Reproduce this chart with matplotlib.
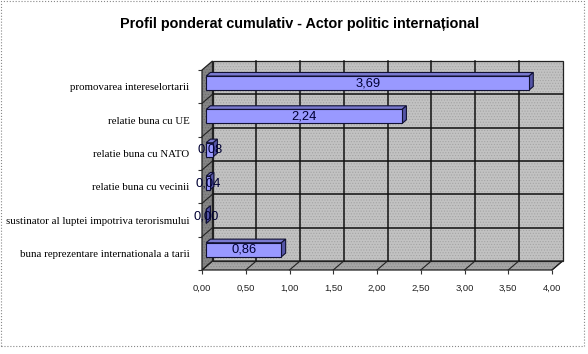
import matplotlib
matplotlib.use("Agg")
import matplotlib.pyplot as plt
from matplotlib.patches import Polygon, Rectangle

# data
categories = [
    "promovarea intereselortarii",
    "relatie buna cu UE",
    "relatie buna cu NATO",
    "relatie buna cu vecinii",
    "sustinator al luptei impotriva terorismului",
    "buna reprezentare internationala a tarii",
]
values = [3.69, 2.24, 0.08, 0.04, 0.00, 0.86]
xticks = [0, 0.5, 1, 1.5, 2, 2.5, 3, 3.5, 4]
title = "Profil ponderat cumulativ - Actor politic internațional"

W, H = 588, 354
fig = plt.figure(figsize=(W / 100, H / 100), dpi=100)
fig.patch.set_facecolor("white")
plt.rcParams["hatch.linewidth"] = 0.5

# front plane of the 3d box, in pixels
x0, x1, ytop, ybot = 202, 552, 70, 270
ax = fig.add_axes([x0 / W, 1 - ybot / H, (x1 - x0) / W, (ybot - ytop) / H])
ax.set_xlim(0, 4)
ax.set_ylim(len(categories) - 0.5, -0.5)
ax.patch.set_visible(False)
for s in ax.spines.values():
    s.set_visible(False)

# depth offset (value units, category units)
DX, DY = 0.12, 0.27
n = len(categories)


def sh(x, y, f):
    return (x + f * DX, y - f * DY)


def poly(pts, **kw):
    ax.add_patch(Polygon(pts, closed=True, clip_on=False, **kw))


# walls
top, bot = -0.5, n - 0.5
back = [sh(0, top, 1), sh(4, top, 1), sh(4, bot, 1), sh(0, bot, 1)]
side = [sh(0, top, 0), sh(0, top, 1), sh(0, bot, 1), sh(0, bot, 0)]
floor = [sh(0, bot, 0), sh(4, bot, 0), sh(4, bot, 1), sh(0, bot, 1)]
poly(back, facecolor="#c2c2c2", edgecolor="#a4a4a4", linewidth=0, hatch="......", zorder=1)
poly(side, facecolor="#858585", edgecolor="#6a6a6a", linewidth=0, hatch="......", zorder=1)
poly(floor, facecolor="#a6a6a6", edgecolor="#8a8a8a", linewidth=0, hatch="......", zorder=1)
for pts in (back, side, floor):
    poly(pts, facecolor="none", edgecolor="#222222", linewidth=0.9, zorder=2)

# gridlines on back wall, floor and side wall
for xv in xticks[1:-1]:
    a, b = sh(xv, top, 1), sh(xv, bot, 1)
    ax.plot([a[0], b[0]], [a[1], b[1]], color="#111111", lw=1.1, clip_on=False, zorder=2)
for xv in xticks[1:]:
    a, b = sh(xv, bot, 0), sh(xv, bot, 1)
    ax.plot([a[0], b[0]], [a[1], b[1]], color="#222222", lw=0.8, clip_on=False, zorder=2)
for k in range(1, n):
    yb = k - 0.5
    a, b = sh(0, yb, 1), sh(4, yb, 1)
    ax.plot([a[0], b[0]], [a[1], b[1]], color="#111111", lw=1.1, clip_on=False, zorder=2)
    a, b = sh(0, yb, 0), sh(0, yb, 1)
    ax.plot([a[0], b[0]], [a[1], b[1]], color="#222222", lw=0.8, clip_on=False, zorder=2)

# 3d bars
f0, f1, hh = 0.4, 0.8, 0.21
for i, v in enumerate(values):
    yt, yb = i - hh, i + hh
    poly([sh(0, yt, f0), sh(v, yt, f0), sh(v, yt, f1), sh(0, yt, f1)],
         facecolor="#7a7ad0", edgecolor="#111133", linewidth=0.8, zorder=3)
    poly([sh(v, yt, f0), sh(v, yb, f0), sh(v, yb, f1), sh(v, yt, f1)],
         facecolor="#5555a8", edgecolor="#111133", linewidth=0.8, zorder=3)
    poly([sh(0, yt, f0), sh(v, yt, f0), sh(v, yb, f0), sh(0, yb, f0)],
         facecolor="#9999ff", edgecolor="#111133", linewidth=0.8, zorder=3)
    cx, cy = sh(v / 2, i, f0)
    ax.text(cx, cy, f"{v:.2f}".replace(".", ","), ha="center", va="center",
            fontsize=9.3, family="Liberation Sans", color="#000033", zorder=4)

# axis ticks and labels
ax.set_xticks(xticks)
ax.set_xticklabels([f"{t:.2f}".replace(".", ",") for t in xticks],
                   family="Liberation Sans", fontsize=6.8, color="#222222")
ax.tick_params(axis="x", length=3, width=0.8, color="#333333", pad=7)
ax.set_yticks(range(n))
ax.set_yticklabels(categories, family="Liberation Serif", fontsize=7.8)
ax.tick_params(axis="y", length=0, pad=9)
ax.set_yticks([k - 0.5 for k in range(n + 1)], minor=True)
ax.tick_params(axis="y", which="minor", length=3, width=0.8, color="#333333")

fig.text(300 / W, 1 - 24 / H, title, ha="center", va="center",
         fontsize=10.4, fontweight="bold", family="Liberation Sans")

# dotted outline of the chart area
fig.add_artist(Rectangle((1 / W, 1 - 346 / H), 583 / W, 345 / H,
                         transform=fig.transFigure, fill=False,
                         edgecolor="#888888", linewidth=0.8, linestyle=":"))

fig.savefig("out.png", dpi=100)
